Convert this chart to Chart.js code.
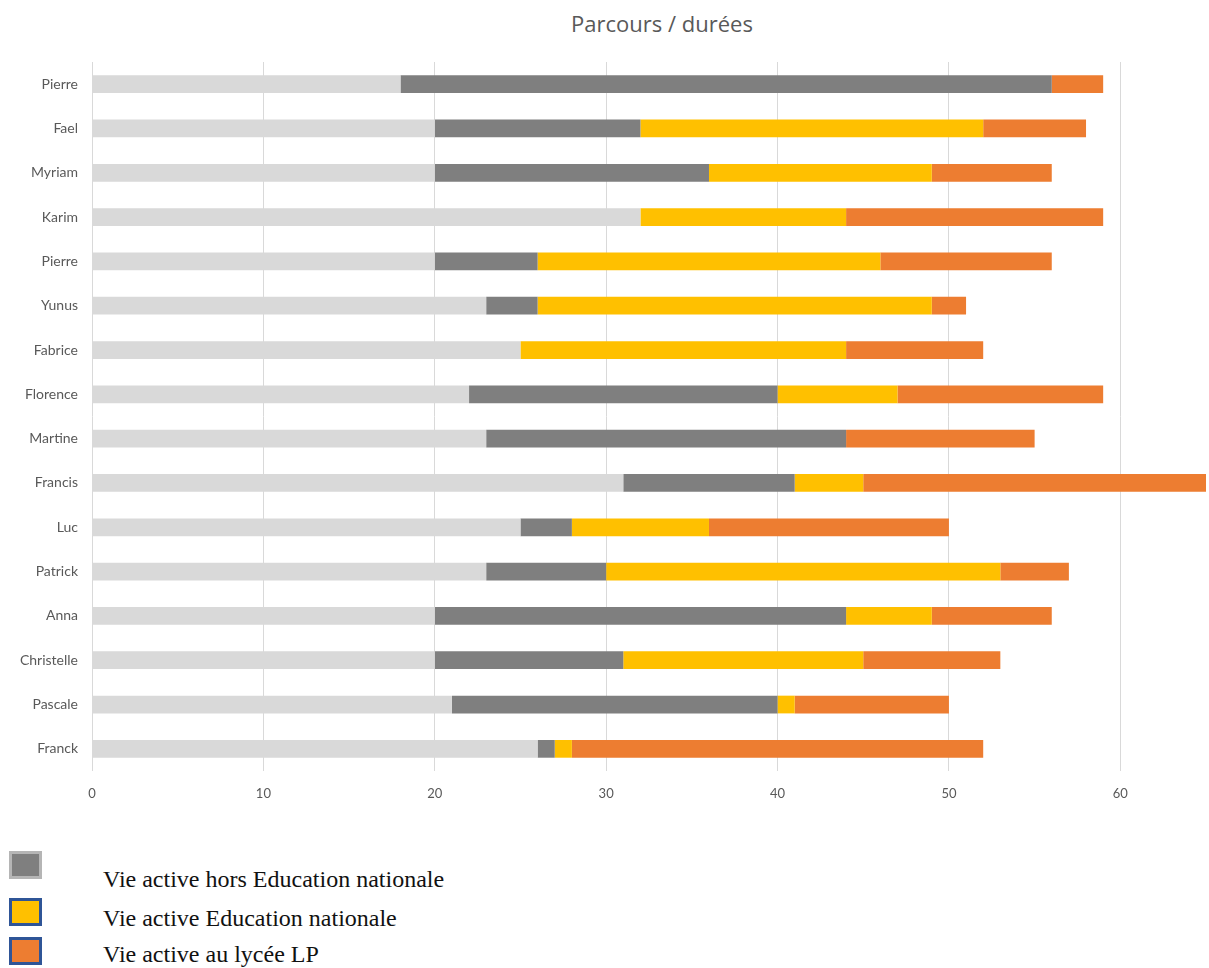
<!DOCTYPE html>
<html>
<head>
<meta charset="utf-8">
<script src="https://cdn.jsdelivr.net/npm/chart.js@4.4.0/dist/chart.umd.min.js"></script>
<style>
  html, body { margin: 0; padding: 0; background: #ffffff; }
  body { width: 1209px; height: 968px; position: relative; overflow: hidden; }
  #title { position: absolute; left: 0; width: 1324px; top: 12px; text-align: center; line-height: 22px;
           font-family: "Open Sans", sans-serif; font-size: 22px; color: #595959; }
  #wrap { position: absolute; left: 0; top: 0; width: 1209px; height: 805px; }
  #legend { position: absolute; left: 0; top: 0; font-family: "Liberation Serif", "Times New Roman", serif;
            font-size: 24px; line-height: 24px; color: #111; }
  .item { position: absolute; white-space: nowrap; }
  .sw { position: absolute; box-sizing: border-box; }
</style>
</head>
<body>
<div id="title">Parcours / durées</div>
<div id="wrap"><canvas id="c" width="1209" height="805"></canvas></div>
<div id="legend"></div>
<script>
// ---- Data (top to bottom) ----
const categories = ["Pierre","Fael","Myriam","Karim","Pierre","Yunus","Fabrice","Florence","Martine","Francis","Luc","Patrick","Anna","Christelle","Pascale","Franck"];
const avantVieActive   = [18,20,20,32,20,23,25,22,23,31,25,23,20,20,21,26];
const horsEducation    = [38,12,16, 0, 6, 3, 0,18,21,10, 3, 7,24,11,19, 1];
const educationNat     = [ 0,20,13,12,20,23,19, 7, 0, 4, 8,23, 5,14, 1, 1];
const lyceeLP          = [ 3, 6, 7,15,10, 2, 8,12,11,20,14, 4, 7, 8, 9,24];
const xTicks = [0,10,20,30,40,50,60];
const seriesNames = ["Avant vie active","Vie active hors Education nationale","Vie active Education nationale","Vie active au lycée LP"];

const colors = ["#d9d9d9","#7f7f7f","#ffc000","#ed7d31"];

const ctx = document.getElementById('c').getContext('2d');
new Chart(ctx, {
  type: 'bar',
  data: {
    labels: categories,
    datasets: [avantVieActive, horsEducation, educationNat, lyceeLP].map((d, i) => ({
      label: seriesNames[i],
      data: d,
      backgroundColor: colors[i],
      borderWidth: 0,
      barPercentage: 0.4,
      categoryPercentage: 1.0
    }))
  },
  options: {
    indexAxis: 'y',
    responsive: false,
    animation: false,
    layout: { padding: { top: 62, right: 3, left: 0, bottom: 0 } },
    plugins: { legend: { display: false }, title: { display: false }, tooltip: { enabled: false } },
    scales: {
      x: {
        stacked: true,
        min: 0, max: 65,
        afterBuildTicks: (axis) => { axis.ticks = xTicks.map(v => ({ value: v })); },
        grid: { color: "#d9d9d9", drawTicks: false, lineWidth: 1 },
        border: { display: false },
        ticks: { color: "#595959", padding: 15, font: { family: "Lato", size: 13 } },
        afterFit: (s) => { s.height = 34; }
      },
      y: {
        stacked: true,
        grid: { display: false, drawTicks: false },
        border: { display: false },
        ticks: { color: "#595959", padding: 14, font: { family: "Lato", size: 14 } },
        afterFit: (s) => { s.width = 92; }
      }
    }
  }
});

// ---- HTML legend (below chart) ----
const legendItems = [
  { name: seriesNames[1], fill: "#7f7f7f", border: "#b5b5b5", top: 851, textTop: 867 },
  { name: seriesNames[2], fill: "#ffc000", border: "#2f5597", top: 898, textTop: 906 },
  { name: seriesNames[3], fill: "#ed7d31", border: "#2f5597", top: 937, textTop: 942 }
];
const lg = document.getElementById('legend');
legendItems.forEach(it => {
  const sw = document.createElement('div');
  sw.className = 'sw';
  sw.style.cssText = `left:9px;top:${it.top}px;width:33px;height:28px;background:${it.fill};border:3px solid ${it.border};`;
  lg.appendChild(sw);
  const t = document.createElement('div');
  t.className = 'item';
  t.style.cssText = `left:103px;top:${it.textTop}px;`;
  t.textContent = it.name;
  lg.appendChild(t);
});
</script>
</body>
</html>
